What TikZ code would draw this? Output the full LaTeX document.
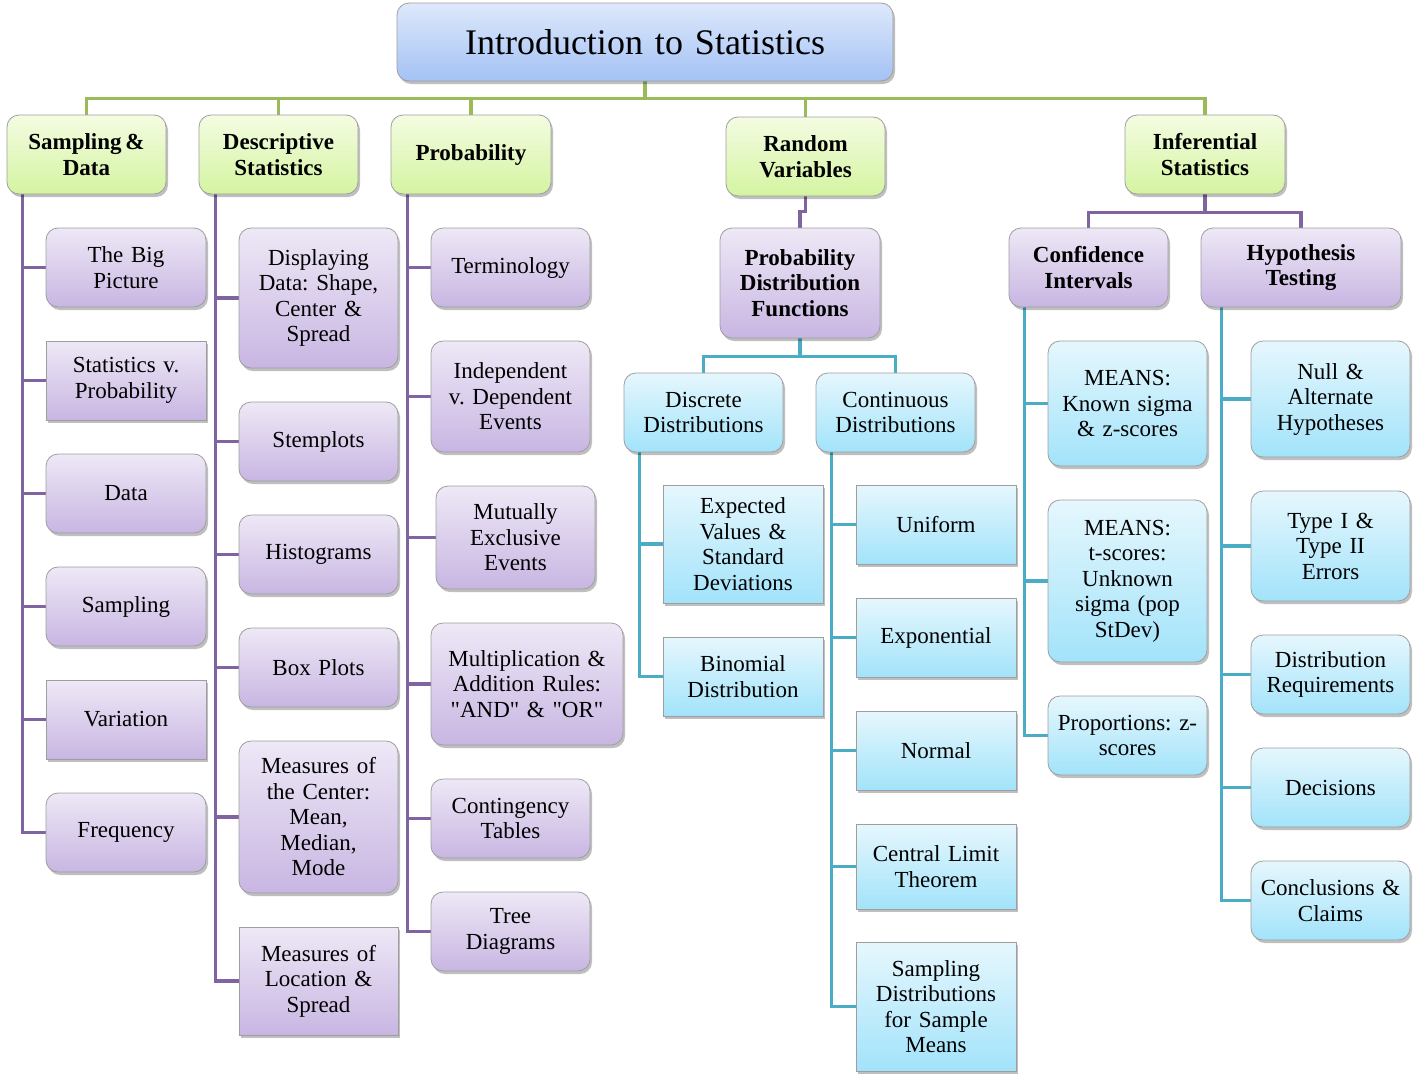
\documentclass[tikz,border=0pt]{standalone}
\usepackage{fontspec}
\setmainfont{Liberation Serif}
\usetikzlibrary{shadows,backgrounds}
\definecolor{pTop}{HTML}{EEE8F6}
\definecolor{pBot}{HTML}{C8B6E2}
\definecolor{bTop}{HTML}{E6F7FD}
\definecolor{bBot}{HTML}{A2E3FA}
\definecolor{gTop}{HTML}{F4FCE2}
\definecolor{gBot}{HTML}{D4F4A0}
\definecolor{tTop}{HTML}{DEE9FB}
\definecolor{tBot}{HTML}{A3C2F5}
\definecolor{cPurple}{HTML}{8064A2}
\definecolor{cGreen}{HTML}{9BBB59}
\definecolor{cTeal}{HTML}{4BACC6}
\frenchspacing
\newcommand\dq{\XeTeXglyph\XeTeXcharglyph"22\relax}
\newcommand\fsn{\fontsize{23}{25.5}\selectfont\frenchspacing}
\newcommand\fsb{\fontsize{23}{25.5}\selectfont\bfseries\frenchspacing}
\newcommand{\bx}[7]{%
  \pgfmathsetmacro\bxcx{(#3+#5)/2}%
  \pgfmathsetmacro\bxcy{(#4+#6)/2}%
  \pgfmathsetmacro\bxw{#5-#3}%
  \pgfmathsetmacro\bxh{#6-#4}%
  \pgfmathsetmacro\bxtw{#5-#3-6}%
  \node[#1, minimum width=\bxw pt, minimum height=\bxh pt, text width=\bxtw pt] (#2) at (\bxcx,\bxcy) {#7};}
\tikzset{
  basebox/.style={draw=black!38, line width=0.8pt, align=center, inner sep=0pt,
    drop shadow={shadow xshift=2pt, shadow yshift=-3pt, opacity=0.25, fill=black}},
  rnd/.style={rounded corners=12pt},
  sqr/.style={sharp corners},
  purp/.style={basebox, top color=pTop, bottom color=pBot, font=\fsn},
  purpb/.style={basebox, top color=pTop, bottom color=pBot, font=\fsb},
  blue/.style={basebox, top color=bTop, bottom color=bBot, font=\fsn},
  grn/.style={basebox, top color=gTop, bottom color=gBot, font=\fsb},
  ttl/.style={basebox, top color=tTop, bottom color=tBot, font=\fontsize{36}{40}\selectfont},
  pl/.style={draw=cPurple, line width=3.5pt},
  gl/.style={draw=cGreen, line width=3.5pt},
  tl/.style={draw=cTeal, line width=3.5pt}
}
\begin{document}
\begin{tikzpicture}[x=1pt,y=-1pt]
\useasboundingbox (0,0) rectangle (1418,1079);
% title
\bx{ttl,rnd}{title}{397}{3}{893}{81}{Introduction to Statistics}
% level 1
\bx{grn,rnd}{sd}{7}{115}{166}{194}{Sampling\,\&\\Data}
\bx{grn,rnd}{ds}{199}{115}{358}{194}{Descriptive\\Statistics}
\bx{grn,rnd}{pr}{391}{115}{551}{194}{Probability}
\bx{grn,rnd}{rv}{726}{117}{885}{196}{Random\\Variables}
\bx{grn,rnd}{is}{1125}{115}{1285}{194}{Inferential\\Statistics}
% column 1
\bx{purp,rnd}{bp}{46}{228}{206}{307}{The Big\\Picture}
\bx{purp,sqr}{svp}{46}{341}{206}{420}{Statistics v.\\Probability}
\bx{purp,rnd}{da}{46}{454}{206}{533}{Data}
\bx{purp,rnd}{sa}{46}{567}{206}{646}{Sampling}
\bx{purp,sqr}{va}{46}{680}{206}{759}{Variation}
\bx{purp,rnd}{fr}{46}{793}{206}{872}{Frequency}
% column 2
\bx{purp,rnd}{dsp}{239}{228}{398}{368}{Displaying\\Data: Shape,\\Center \&\\Spread}
\bx{purp,rnd}{st}{239}{402}{398}{481}{Stemplots}
\bx{purp,rnd}{hi}{239}{515}{398}{594}{Histograms}
\bx{purp,rnd}{bxp}{239}{628}{398}{707}{Box Plots}
\bx{purp,rnd}{mc}{239}{741}{398}{893}{Measures of\\the Center:\\Mean,\\Median,\\Mode}
\bx{purp,sqr}{ml}{239}{927}{398}{1035}{Measures of\\Location \&\\Spread}
% column 3
\bx{purp,rnd}{te}{431}{228}{590}{307}{Terminology}
\bx{purp,rnd}{idp}{431}{341}{590}{452}{Independent\\v. Dependent\\Events}
\bx{purp,rnd}{me}{436}{486}{595}{589}{Mutually\\Exclusive\\Events}
\bx{purp,rnd}{ma}{431}{623}{623}{745}{Multiplication \&\\Addition Rules:\\\dq AND\dq{} \& \dq OR\dq}
\bx{purp,rnd}{ct}{431}{779}{590}{858}{Contingency\\Tables}
\bx{purp,rnd}{tdg}{431}{892}{590}{971}{Tree\\Diagrams}
% random variables
\bx{purpb,rnd}{pdf}{720}{228}{880}{338}{Probability\\Distribution\\Functions}
\bx{blue,rnd}{disc}{624}{373}{783}{452}{Discrete\\Distributions}
\bx{blue,rnd}{cont}{816}{373}{975}{452}{Continuous\\Distributions}
\bx{blue,sqr}{ev}{663}{485}{823}{603}{Expected\\Values \&\\Standard\\Deviations}
\bx{blue,sqr}{bd}{663}{637}{823}{716}{Binomial\\Distribution}
\bx{blue,sqr}{un}{856}{485}{1016}{564}{Uniform}
\bx{blue,sqr}{ex}{856}{598}{1016}{677}{Exponential}
\bx{blue,sqr}{no}{856}{711}{1016}{790}{Normal}
\bx{blue,sqr}{clt}{856}{824}{1016}{909}{Central Limit\\Theorem}
\bx{blue,sqr}{sdm}{856}{942}{1016}{1071}{Sampling\\Distributions\\for Sample\\Means}
% inferential
\bx{purpb,rnd}{ci}{1009}{228}{1168}{307}{Confidence\\Intervals}
\bx{purpb,rnd}{ht}{1201}{228}{1401}{307}{Hypothesis\\Testing}
\bx{blue,rnd}{mk}{1048}{341}{1207}{466}{MEANS:\\Known sigma\\\& z-scores}
\bx{blue,rnd}{mt}{1048}{500}{1207}{662}{MEANS:\\t-scores:\\Unknown\\sigma (pop\\StDev)}
\bx{blue,rnd}{pz}{1048}{696}{1207}{775}{Proportions: z-\\scores}
\bx{blue,rnd}{na}{1251}{341}{1410}{457}{Null \&\\Alternate\\Hypotheses}
\bx{blue,rnd}{ty}{1251}{491}{1410}{601}{Type I \&\\Type II\\Errors}
\bx{blue,rnd}{dr}{1251}{635}{1410}{714}{Distribution\\Requirements}
\bx{blue,rnd}{de}{1251}{748}{1410}{827}{Decisions}
\bx{blue,rnd}{cc}{1251}{861}{1410}{940}{Conclusions \&\\Claims}
% connectors
\begin{scope}[on background layer]
\foreach \n in {sd,ds,pr,rv,is} \draw[gl] (title.south) -- ++(0,17) -| (\n.north);
\foreach \n in {bp,svp,da,sa,va,fr} \draw[pl] ([xshift=16pt]sd.south west) |- (\n.west);
\foreach \n in {dsp,st,hi,bxp,mc,ml} \draw[pl] ([xshift=17pt]ds.south west) |- (\n.west);
\foreach \n in {te,idp,me,ma,ct,tdg} \draw[pl] ([xshift=17pt]pr.south west) |- (\n.west);
\draw[pl] (rv.south) -- ++(0,15) -| (pdf.north);
\foreach \n in {disc,cont} \draw[tl] (pdf.south) -- ++(0,18) -| (\n.north);
\foreach \n in {ev,bd} \draw[tl] ([xshift=16pt]disc.south west) |- (\n.west);
\foreach \n in {un,ex,no,clt,sdm} \draw[tl] ([xshift=16pt]cont.south west) |- (\n.west);
\foreach \n in {ci,ht} \draw[pl] (is.south) -- ++(0,18) -| (\n.north);
\foreach \n in {mk,mt,pz} \draw[tl] ([xshift=16pt]ci.south west) |- (\n.west);
\foreach \n in {na,ty,dr,de,cc} \draw[tl] ([xshift=21pt]ht.south west) |- (\n.west);
\end{scope}
\end{tikzpicture}
\end{document}
